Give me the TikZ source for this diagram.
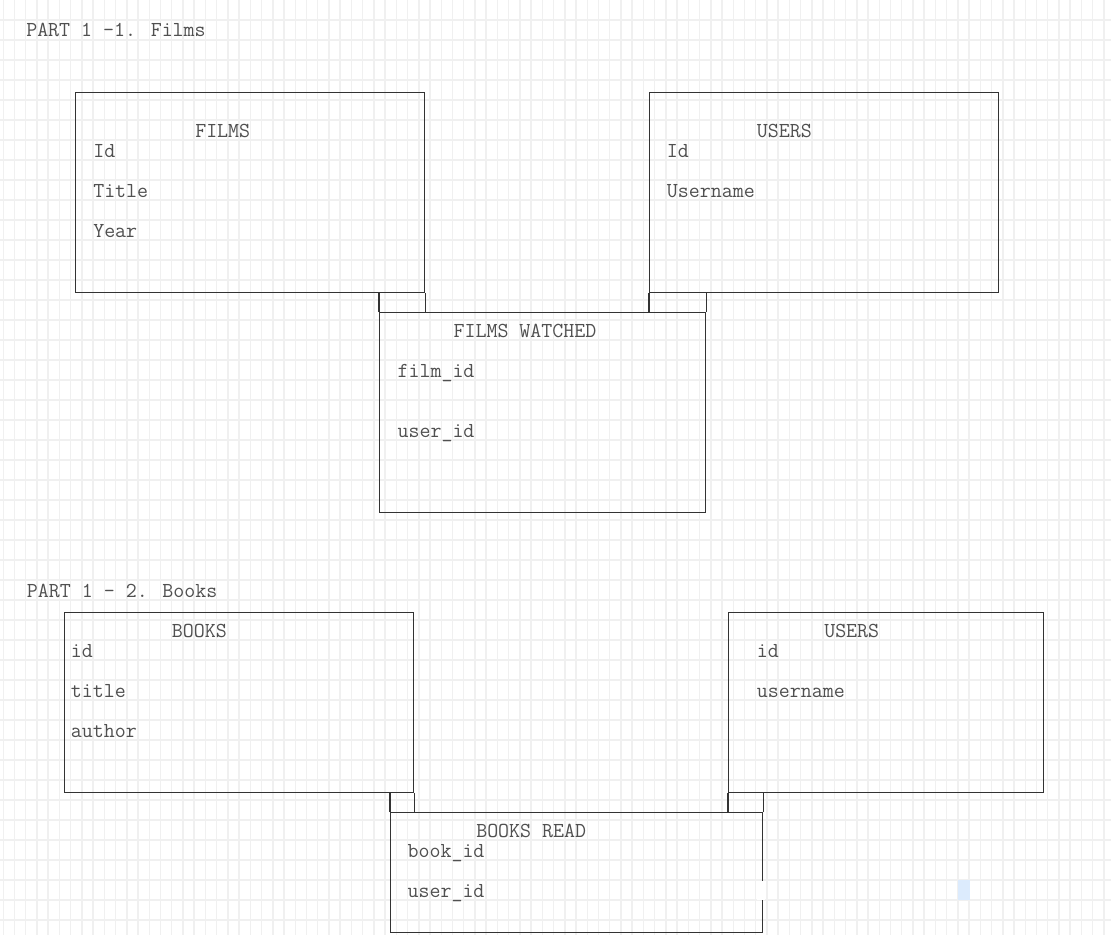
\documentclass[tikz,border=0pt]{standalone}
\usepackage{fontspec}
\usepackage{tikz}
\definecolor{inkgray}{HTML}{333333}
\definecolor{textgray}{HTML}{505050}
\definecolor{gridgray}{HTML}{F0F0F0}
\definecolor{selblue}{HTML}{DCEBFD}
\tikzset{
  tbl/.style 2 args={draw=inkgray, line width=0.8pt, inner sep=0pt, anchor=north west,
    minimum width=#1*0.75pt, minimum height=#2*0.75pt},
  lbl/.style={font=\ttfamily\fontsize{16}{18}\selectfont, text=textgray, inner sep=0pt, anchor=base west},
  link/.style={draw=inkgray, line width=0.8pt},
  gridline/.style={draw=gridgray, line width=1.1pt}
}

\begin{document}
\begin{tikzpicture}[x=0.75pt, y=-0.75pt]
   \fill[white] (0,0) rectangle (1111,935);
   \useasboundingbox (0,0) rectangle (1111,935);
   % background grid
   \foreach \i in {0,...,98}
      \draw[gridline] (3.3+11.23*\i,0) -- (3.3+11.23*\i,935);
   \foreach \j in {1,...,46}
      \draw[gridline] (0,20*\j) -- (1111,20*\j);

   % part 1 - films
   \node[lbl] (h1) at (26,36.7) {PART 1 -1. Films};
   \node[tbl={349}{200}] (films) at (75,92) {};
   \node[tbl={349}{200}] (users) at (649,92) {};
   \node[tbl={326}{200}] (watched) at (379,312) {};
   \node[lbl] (films-t) at (195,137) {FILMS};
   \node[lbl] (films-1) at (93,157) {Id};
   \node[lbl] (films-2) at (93,197) {Title};
   \node[lbl] (films-3) at (93,237) {Year};
   \node[lbl] (users-t) at (756.7,137) {USERS};
   \node[lbl] (users-1) at (666.7,157) {Id};
   \node[lbl] (users-2) at (666.7,197) {Username};
   \node[lbl] (watched-t) at (453.3,337) {FILMS WATCHED};
   \node[lbl] (watched-1) at (397.3,377) {film\_id};
   \node[lbl] (watched-2) at (397.3,437) {user\_id};
   \draw[link] (films.south east) -- (films.south east |- watched.north);
   \draw[link] (watched.north west) -- (watched.north west |- films.south);
   \draw[link] (users.south west) -- (users.south west |- watched.north);
   \draw[link] (watched.north east) -- (watched.north east |- users.south);

   % part 1 - books
   \node[lbl] (h2) at (26.7,597) {PART 1 - 2. Books};
   \node[tbl={349}{180}] (books) at (64,612) {};
   \node[tbl={315}{180}] (readers) at (728,612) {};
   \node[tbl={372}{120}] (read) at (390,812) {};
   \node[lbl] (books-t) at (171.7,637) {BOOKS};
   \node[lbl] (books-1) at (70.7,657) {id};
   \node[lbl] (books-2) at (70.7,697) {title};
   \node[lbl] (books-3) at (70.7,737) {author};
   \node[lbl] (readers-t) at (824,637) {USERS};
   \node[lbl] (readers-1) at (756.7,657) {id};
   \node[lbl] (readers-2) at (756.7,697) {username};
   \node[lbl] (read-t) at (476,837) {BOOKS READ};
   \node[lbl] (read-1) at (407.3,857) {book\_id};
   \node[lbl] (read-2) at (407.3,897) {user\_id};
   \draw[link] (books.south east) -- (books.south east |- read.north);
   \draw[link] (read.north west) -- (read.north west |- books.south);
   \draw[link] (readers.south west) -- (readers.south west |- read.north);
   \draw[link] (read.north east) -- (read.north east |- readers.south);

   % screen marks
   \fill[white] (757,881) rectangle (765,900);
   \fill[selblue] (958,880) rectangle (970,900);
\end{tikzpicture}
\end{document}
